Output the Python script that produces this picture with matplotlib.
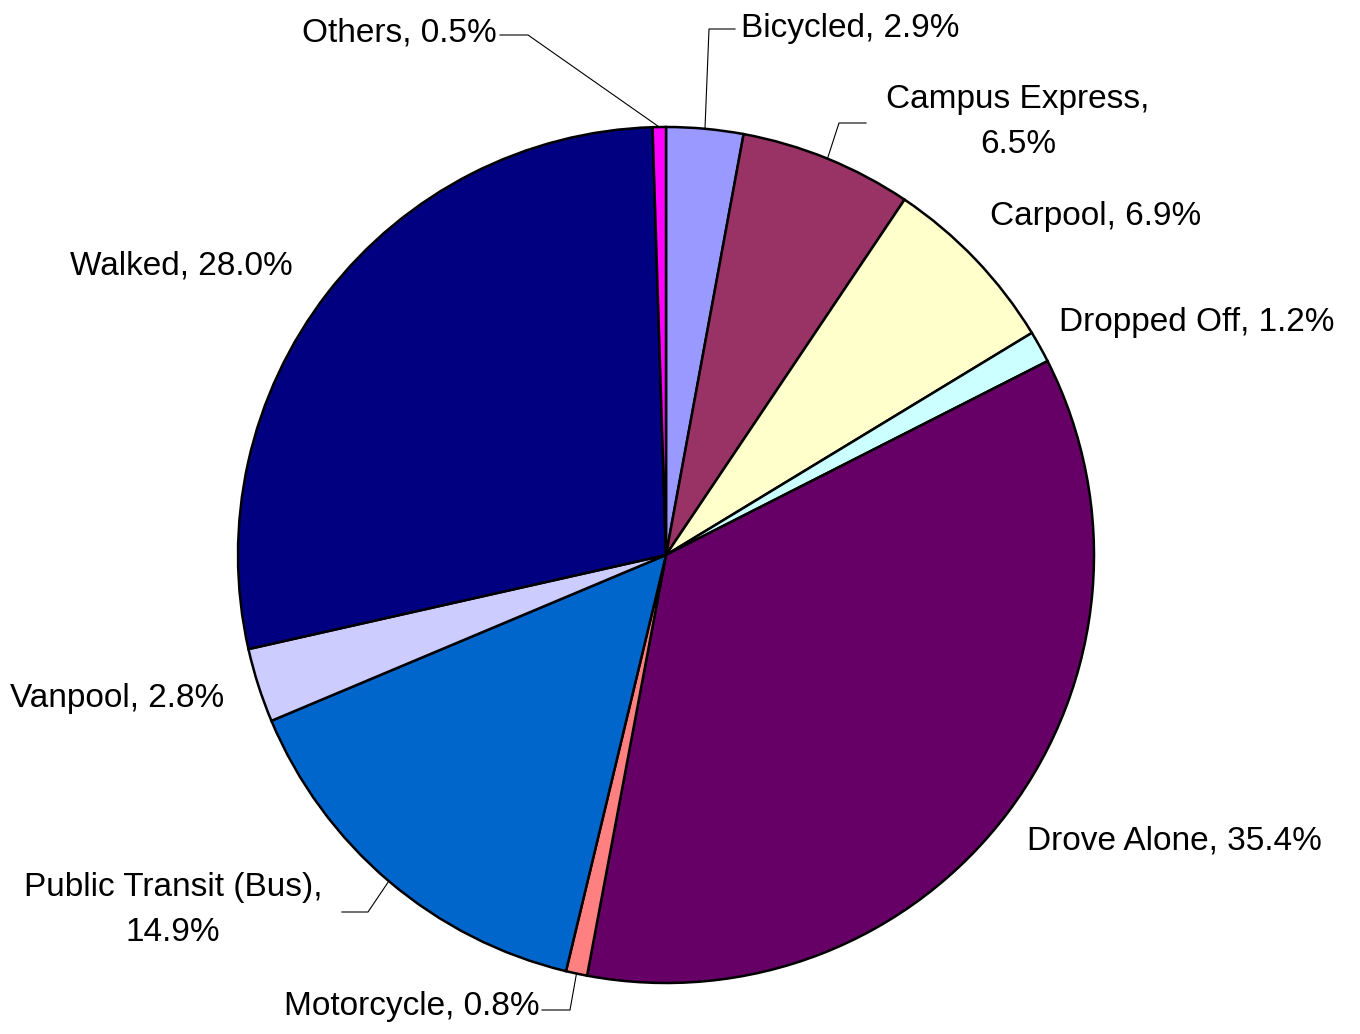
import numpy as np
import matplotlib.pyplot as plt

plt.rcParams['font.family'] = ['Liberation Sans', 'DejaVu Sans']

labels = ['Bicycled', 'Campus Express', 'Carpool', 'Dropped Off', 'Drove Alone',
          'Motorcycle', 'Public Transit (Bus)', 'Vanpool', 'Walked', 'Others']
shares = [2.9, 6.5, 6.9, 1.2, 35.4, 0.8, 14.9, 2.8, 28.0, 0.5]
colors = ['#9999FF', '#993366', '#FFFFCC', '#CCFFFF', '#660066',
          '#FF8080', '#0066CC', '#CCCCFF', '#000080', '#FF00FF']

W, H = 1360, 1034
cx, cy, R = 666, 555, 428

fig = plt.figure(figsize=(W / 100, H / 100), dpi=100)
ax = fig.add_axes([0, 0, 1, 1])

def fy(y):
    # top-down pixel y -> axis y
    return H - y

ax.pie(shares, colors=colors, startangle=90, counterclock=False,
       center=(cx, fy(cy)), radius=R, normalize=True,
       wedgeprops=dict(edgecolor='black', linewidth=1.8))

# pie() resets limits, so set them afterwards
ax.set_xlim(0, W)
ax.set_ylim(0, H)
ax.set_aspect('equal')
ax.axis('off')

# label text: (x, y, ha) in pixel coords, y from top
lab_pos = {
    'Bicycled': (741, 28, 'left'),
    'Campus Express': (1018, 122, 'center'),
    'Carpool': (990, 216, 'left'),
    'Dropped Off': (1059, 323, 'left'),
    'Drove Alone': (1027, 841, 'left'),
    'Motorcycle': (540, 1006, 'right'),
    'Public Transit (Bus)': (173, 910, 'center'),
    'Vanpool': (10, 698, 'left'),
    'Walked': (70, 266, 'left'),
    'Others': (497, 33, 'right'),
}
two_line = {'Campus Express', 'Public Transit (Bus)'}

for lab, v in zip(labels, shares):
    x, y, ha = lab_pos[lab]
    sep = ',\n' if lab in two_line else ', '
    ax.text(x, fy(y), f'{lab}{sep}{v:.1f}%', ha=ha, va='center',
            fontsize=24, linespacing=1.55, multialignment='center')

# leader lines: text end -> elbow -> wedge edge
leaders = {
    'Others': [(500, 35), (528, 35)],
    'Bicycled': [(735, 29), (709, 29)],
    'Campus Express': [(866, 123), (839, 123)],
    'Public Transit (Bus)': [(342, 912), (368, 912)],
    'Motorcycle': [(542, 1010), (570, 1010)],
}
cum = np.cumsum([0] + shares)
total = cum[-1]
for i, lab in enumerate(labels):
    if lab not in leaders:
        continue
    mid = (cum[i] + cum[i + 1]) / 2 / total
    ang = np.deg2rad(90 - 360 * mid)
    ex, ey = cx + R * np.cos(ang), cy - R * np.sin(ang)
    pts = leaders[lab] + [(ex, ey)]
    ax.plot([p[0] for p in pts], [fy(p[1]) for p in pts], color='black', lw=0.8)

fig.savefig('out.png', dpi=100, facecolor='white')
